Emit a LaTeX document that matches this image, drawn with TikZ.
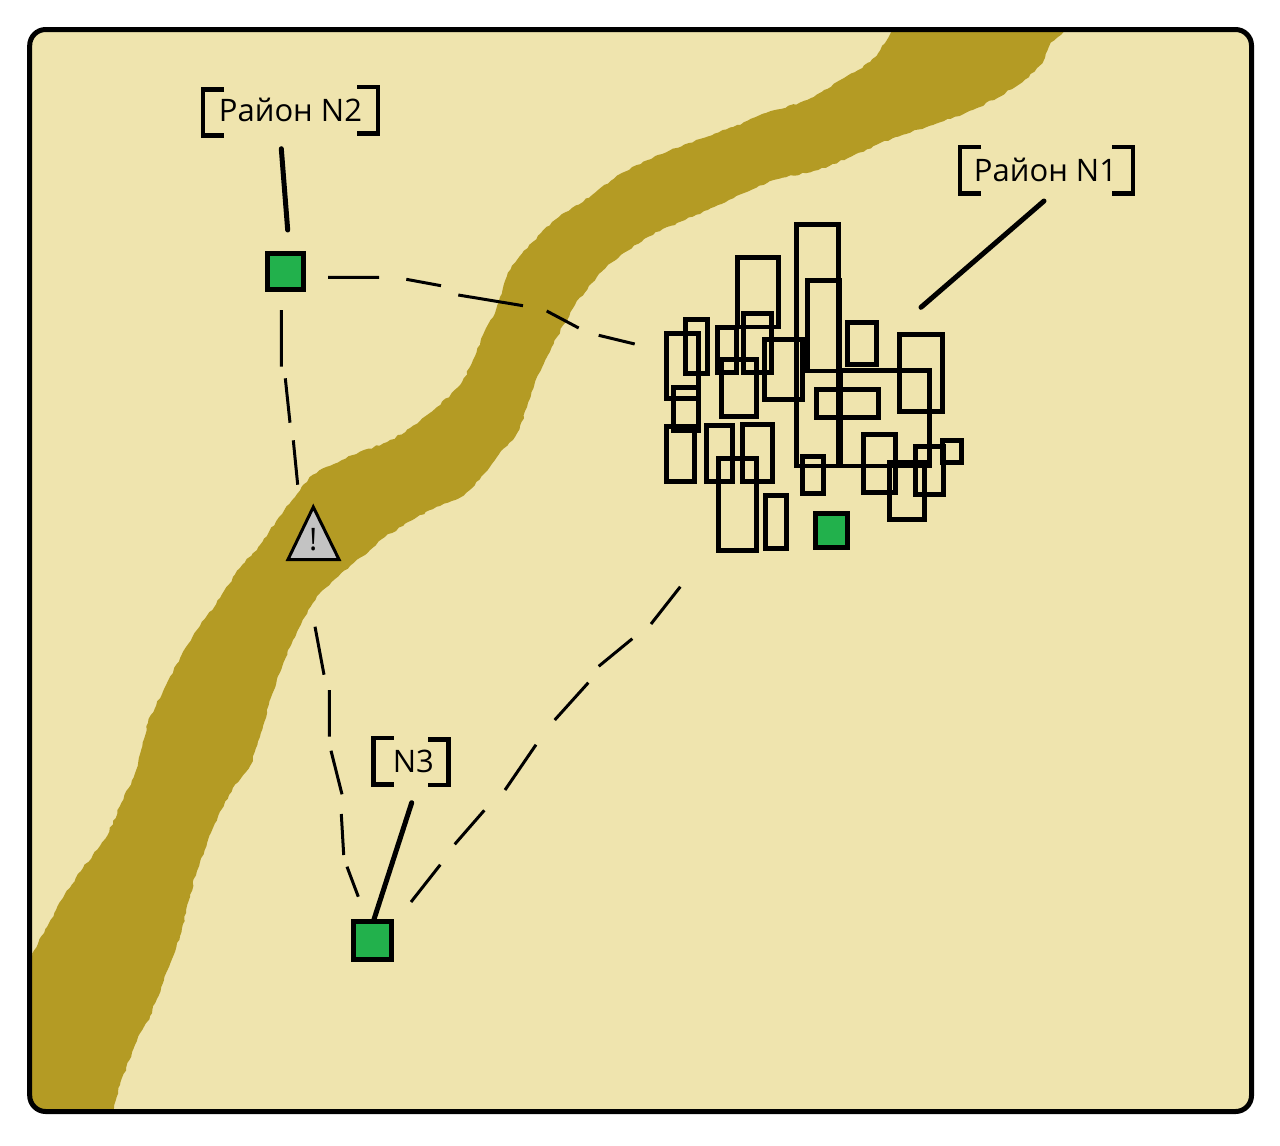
\documentclass[tikz,border=0pt]{standalone}
\usepackage{fontspec}
\setmainfont{Open Sans}
\usetikzlibrary{decorations.pathmorphing}
\definecolor{sand}{HTML}{EFE4AE}
\definecolor{riverc}{HTML}{B49B24}
\definecolor{marker}{HTML}{22B14C}
\definecolor{warn}{HTML}{C3C3C3}
\tikzset{
  frameline/.style={line width=5pt,rounded corners=16pt},
  house/.style={draw=black,line width=4.7pt,fill=none},
  link/.style={draw=black,line width=3pt},
  leader/.style={draw=black,line width=5pt,line cap=round},
  bracketline/.style={draw=black,line width=4.4pt,miter limit=10},
  place/.style={rectangle,draw=black,line width=5pt,fill=marker,inner sep=0pt},
  lbl/.style={inner sep=0pt,font=\fontsize{31pt}{33pt}\selectfont,text=black,anchor=base},
  riverbank/.style={fill=riverc,draw=none,decorate,decoration={random steps,segment length=4pt,amplitude=0.9pt}}
}
\newcommand{\cityrect}[4]{\draw[house] ({640+(#1+7)/3},{210+(#2+7)/3}) rectangle ({640+(#3-7)/3},{210+(#4-7)/3});}
\pgfmathsetseed{7}
\begin{document}
\begin{tikzpicture}[x=1pt,y=-1pt]
\useasboundingbox (0,0) rectangle (1280,1146);
\fill[white] (0,0) rectangle (1280,1146);
% ground and river
\begin{scope}
\clip[rounded corners=16pt] (29.7,29.5) rectangle (1251.5,1111.5);
\fill[sand] (0,0) rectangle (1280,1146);
\path[riverbank] plot[smooth cycle,tension=0.4] coordinates {
 (18,972) (32,954) (47,927) (63,898) (83,868) (105,839) (120,806) (135,773) (148,723) (167,683)
 (193,636) (220,598) (240,568) (260,545) (277,520) (295,497) (313,475) (353,455) (387,442) (410,428)
 (437,407) (460,385) (473,360) (483,335) (493,317) (500,297) (507,276) (517,260) (541,233) (559,217)
 (592,195) (622,173) (648,160) (689,143) (733,127) (766,113) (807,100) (844,78) (870,62) (885,43) (891,32) (897,15)
 (1070,15) (1064,32) (1051,43) (1042,63) (1018,85) (977,108) (933,125) (896,137) (848,158) (818,170)
 (774,180) (744,193) (718,205) (685,220) (648,237) (611,263) (592,283) (575,305) (557,337) (547,357)
 (537,377) (527,407) (517,433) (497,457) (473,487) (455,500) (430,510) (385,537) (370,550) (350,566)
 (323,590) (313,603) (293,640) (277,679) (263,726) (250,766) (233,788) (213,828) (197,871) (190,897)
 (180,936) (168,969) (150,1016) (137,1041) (120,1085) (114,1108) (110,1130) (18,1130)};
\end{scope}
\draw[frameline] (29.7,29.5) rectangle (1251.5,1111.5);
% dashed routes
\coordinate (a1) at (328,277.3); \coordinate (a2) at (379,277.3);
\coordinate (a3) at (406.3,279.3); \coordinate (a4) at (441,285.7);
\coordinate (a5) at (458.3,295); \coordinate (a6) at (523,305.7);
\coordinate (a7) at (546.7,311); \coordinate (a8) at (578.7,328);
\coordinate (a9) at (598.7,335.3); \coordinate (a10) at (634.7,344);
\coordinate (b1) at (281.3,310); \coordinate (b2) at (281.3,366.7);
\coordinate (b3) at (285.3,378.3); \coordinate (b4) at (290,422.7);
\coordinate (b5) at (293.3,440.3); \coordinate (b6) at (297.7,484.7);
\coordinate (c1) at (315,626.7); \coordinate (c2) at (324,674.7);
\coordinate (c3) at (329.3,690); \coordinate (c4) at (329.3,736.7);
\coordinate (c5) at (331,750.7); \coordinate (c6) at (342,794.3);
\coordinate (c7) at (341.3,814); \coordinate (c8) at (343.7,855);
\coordinate (c9) at (347,866.7); \coordinate (c10) at (358.3,896.7);
\coordinate (d1) at (411,902); \coordinate (d2) at (440.3,864.7);
\coordinate (d3) at (454.7,844.3); \coordinate (d4) at (484.3,810.3);
\coordinate (d5) at (505,790); \coordinate (d6) at (536,744.7);
\coordinate (d7) at (554.7,720); \coordinate (d8) at (588.3,682.7);
\coordinate (d9) at (598.7,666.3); \coordinate (d10) at (632.3,638.7);
\coordinate (d11) at (651,624); \coordinate (d12) at (680.3,586.7);
\draw[link] (a1)--(a2) (a3)--(a4) (a5)--(a6) (a7)--(a8) (a9)--(a10);
\draw[link] (b1)--(b2) (b3)--(b4) (b5)--(b6);
\draw[link] (c1)--(c2) (c3)--(c4) (c5)--(c6) (c7)--(c8) (c9)--(c10);
\draw[link] (d1)--(d2) (d3)--(d4) (d5)--(d6) (d7)--(d8) (d9)--(d10) (d11)--(d12);
% houses of the settlement
\cityrect{463}{36}{603}{775}
\cityrect{594}{475}{875}{775}
\cityrect{496}{205}{605}{490}
\cityrect{286}{135}{422}{358}
\cityrect{304}{304}{401}{494}
\cityrect{226}{346}{296}{494}
\cityrect{238}{442}{356}{627}
\cityrect{130}{322}{209}{497}
\cityrect{73}{364}{182}{572}
\cityrect{94}{526}{182}{670}
\cityrect{73}{643}{170}{821}
\cityrect{193}{640}{284}{821}
\cityrect{301}{637}{404}{821}
\cityrect{229}{739}{356}{1028}
\cityrect{370}{850}{446}{1022}
\cityrect{367}{382}{494}{575}
\cityrect{616}{331}{716}{470}
\cityrect{772}{367}{914}{611}
\cityrect{523}{532}{722}{629}
\cityrect{664}{667}{773}{854}
\cityrect{742}{751}{860}{935}
\cityrect{820}{703}{917}{860}
\cityrect{901}{685}{971}{764}
\cityrect{481}{733}{557}{857}
% markers
\node[place,minimum width=31.4pt,minimum height=33.3pt] (sqone) at (831.5,530.5) {};
\node[place,minimum size=36pt] (sqtwo) at (285.5,271.5) {};
\node[place,minimum width=37.5pt,minimum height=37.5pt] (sqthree) at (372.5,940.3) {};
% warning
\draw[draw=black,fill=warn,line width=3pt,line join=miter] (313.3,507) -- (339,559.5) -- (288,559.5) -- cycle;
\node[inner sep=0pt,font=\fontsize{31pt}{33pt}\selectfont,text=black] (warnmark) at (313.3,540) {!};
% labels
\node[lbl] (lblone) at (1045.5,181) {Район N1};
\node[lbl] (lbltwo) at (290.5,121.5) {Район N2};
\node[lbl] (lblthree) at (413.3,772) {N3};
\draw[bracketline] (981,147.2) -- (960.2,147.2) -- (960.2,193.5) -- (981,193.5);
\draw[bracketline] (1112,147.2) -- (1132.8,147.2) -- (1132.8,193.5) -- (1112,193.5);
\draw[bracketline] (224,89.5) -- (203.2,89.5) -- (203.2,135.5) -- (224,135.5);
\draw[bracketline] (357,87.2) -- (377.8,87.2) -- (377.8,133.5) -- (357,133.5);
\draw[bracketline] (393.7,738.2) -- (373.5,738.2) -- (373.5,784.5) -- (393.7,784.5);
\draw[bracketline] (428.3,739.5) -- (448.5,739.5) -- (448.5,785.1) -- (428.3,785.1);
% leaders
\coordinate (lo1) at (1044,201); \coordinate (lo2) at (921,307.3);
\coordinate (lt1) at (281.3,148.7); \coordinate (lt2) at (287.7,230);
\coordinate (lh1) at (411.7,802.7); \coordinate (lh2) at (374,919.3);
\draw[leader] (lo1) -- (lo2);
\draw[leader] (lt1) -- (lt2);
\draw[leader] (lh1) -- (lh2);
\end{tikzpicture}
\end{document}
